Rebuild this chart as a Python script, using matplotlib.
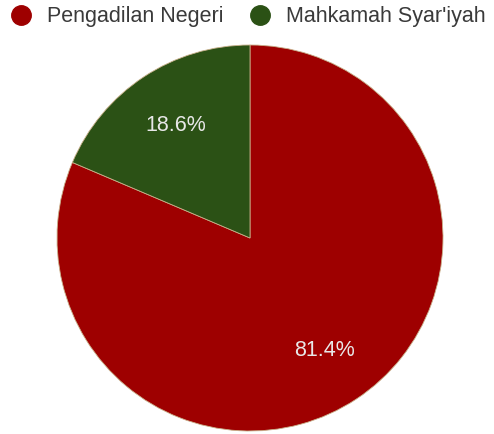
import matplotlib
matplotlib.use('Agg')
from matplotlib import pyplot as plt
from matplotlib.lines import Line2D

labels = ['Pengadilan Negeri', 'Mahkamah Syar\'iyah']
values = [81.4, 18.6]
colors = ['#9e0000', '#2b5115']

plt.rcParams['font.family'] = ['Liberation Sans', 'DejaVu Sans']

fig = plt.figure(figsize=(4.94, 4.34), dpi=100)
# pie centre ~ (250, 238) px, radius ~193 px
ax = fig.add_axes([57 / 494, (434 - 238 - 193) / 434, 386 / 494, 386 / 434])

wedges, texts, autotexts = ax.pie(values, colors=colors, startangle=90, counterclock=False,
                                  autopct='%.1f%%', pctdistance=0.7, radius=1,
                                  wedgeprops=dict(edgecolor='#c8b08a', linewidth=0.6),
                                  textprops=dict(color='#e8e8e8', fontsize=15.5))
ax.set_xlim(-1, 1)
ax.set_ylim(-1, 1)
ax.set_aspect('equal')

handles = [Line2D([], [], marker='o', linestyle='none', markersize=14,
                  markerfacecolor=c, markeredgecolor=c) for c in colors]
fig.legend(handles, labels, loc='upper left', bbox_to_anchor=(-0.014, 1.02), ncol=2,
           frameon=False, fontsize=15.5, labelcolor='#3a3a3a',
           handletextpad=0.6, columnspacing=1.1, handlelength=1.2, borderaxespad=0.3)

fig.savefig('out.png', dpi=100)
